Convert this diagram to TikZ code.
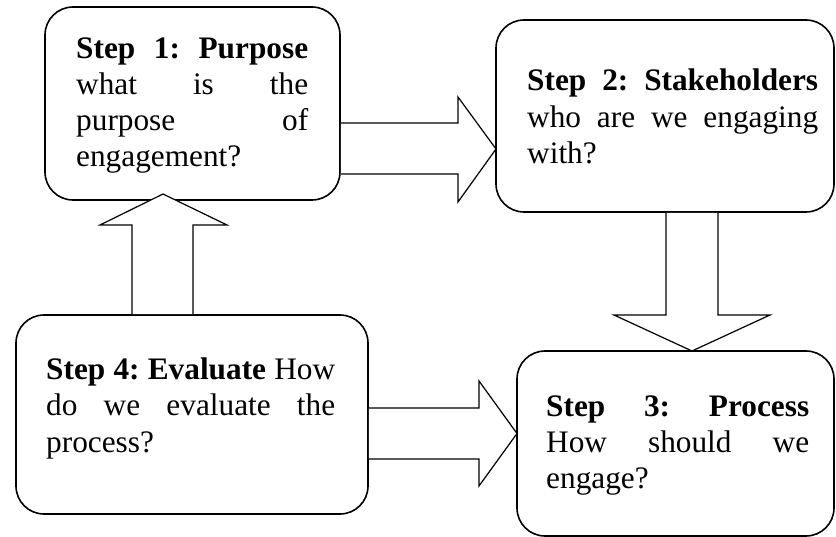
\documentclass[tikz,border=0pt]{standalone}
\usepackage{fontspec}
\setmainfont{Liberation Serif}
\usetikzlibrary{calc}
\begin{document}
\begin{tikzpicture}[x=1pt,y=-1pt,
  box/.style={draw, line width=1.6pt, rounded corners=28pt, inner sep=0pt, outer sep=0pt},
  txt/.style={anchor=base west, inner sep=0pt, align=left, font=\fontsize{31.3}{36.2}\selectfont},
  blockarrow/.style={draw, fill=white, line width=1.2pt, line join=miter}]
\useasboundingbox (0,0) rectangle (836,537);

% boxes
\node[box, minimum width=295pt, minimum height=193pt] (b1) at (192.5,103.5) {};
\node[box, minimum width=338pt, minimum height=192pt] (b2) at (665,116) {};
\node[box, minimum width=317pt, minimum height=185pt] (b3) at (675.5,443.5) {};
\node[box, minimum width=352pt, minimum height=199pt] (b4) at (192,414.5) {};

% texts
\node[txt, text width=232pt] (t1) at (76,58.3)
  {\textbf{Step\hfill 1:\hfill Purpose}\\ what\hfill is\hfill the\\ purpose\hfill of\\ engagement?};
\node[txt, text width=291pt] (t2) at (527,91)
  {\textbf{Step\hfill 2:\hfill Stakeholders}\\ who\hfill are\hfill we\hfill engaging\\ with?};
\node[txt, text width=263pt] (t3) at (546,416.3)
  {\textbf{Step\hfill 3:\hfill Process}\\ How\hfill should\hfill we\\ engage?};
\node[txt, text width=289pt] (t4) at (46,379.7)
  {\textbf{Step\hfill 4:\hfill Evaluate}\hfill How\\ do\hfill we\hfill evaluate\hfill the\\ process?};

% block arrows
\draw[blockarrow] ($(b1.east|-0,123)+(0.8,0)$) -- (458,123) -- (458,97) -- (b2.west|-0,149)
  -- (458,202) -- (458,174) -- ($(b1.east|-0,174)+(0.8,0)$);
\draw[blockarrow] ($(b2.south-|666,0)+(0,0.8)$) -- (666,315) -- (614,315) -- (b3.north-|692,0)
  -- (770,315) -- (718,315) -- ($(b2.south-|718,0)+(0,0.8)$);
\draw[blockarrow] ($(b4.north-|132,0)+(0,-0.8)$) -- (132,225) -- (100,225) -- ($(b1.south-|163,0)+(0,-6)$)
  -- (227,225) -- (193,225) -- ($(b4.north-|193,0)+(0,-0.8)$);
\draw[blockarrow] ($(b4.east|-0,408)+(0.8,0)$) -- (479,408) -- (479,381) -- (b3.west|-0,433.5)
  -- (479,486) -- (479,459) -- ($(b4.east|-0,459)+(0.8,0)$);
\end{tikzpicture}
\end{document}
